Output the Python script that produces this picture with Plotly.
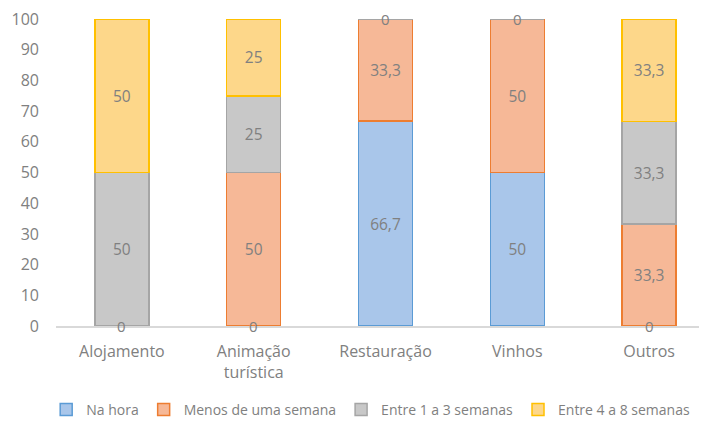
import plotly.graph_objects as go

categories = ["Alojamento", "Animação<br>turística", "Restauração", "Vinhos", "Outros"]
na_hora = [0, 0, 66.7, 50, 0]
menos_semana = [None, 50, 33.3, 50, 33.3]
entre_1_3 = [50, 25, 0, 0, 33.3]
entre_4_8 = [50, 25, None, None, 33.3]

series = [
    ("Na hora", na_hora, "#A9C6EA", "#5B9BD5"),
    ("Menos de uma semana", menos_semana, "#F6B897", "#ED7D31"),
    ("Entre 1 a 3 semanas", entre_1_3, "#C8C8C8", "#A5A5A5"),
    ("Entre 4 a 8 semanas", entre_4_8, "#FDD78A", "#FFC000"),
]

FONT = "Open Sans, sans-serif"
TXT = "#808080"

def fmt(v):
    if v is None:
        return ""
    return ("%g" % v).replace(".", ",")

fig = go.Figure()
base = [0.0] * len(categories)
annotations = []
for name, vals, fill, line in series:
    fig.add_trace(go.Bar(
        name=name, x=categories, y=vals,
        marker=dict(color=fill, line=dict(color=line, width=1.5)),
        text=[fmt(v) for v in vals],
        textposition="inside", insidetextanchor="middle",
        constraintext="none",
        textfont=dict(color=TXT, size=15.5, family=FONT),
    ))
    for i, v in enumerate(vals):
        if v is None:
            continue
        if v == 0:
            annotations.append(dict(x=categories[i], y=base[i], xref="x", yref="y",
                                    text="0", showarrow=False, borderpad=0,
                                    font=dict(color=TXT, size=15, family=FONT)))
        base[i] += v

fig.update_layout(
    barmode="stack",
    bargap=0.59,
    width=707, height=423,
    margin=dict(l=48, r=0, t=11, b=105, autoexpand=False),
    plot_bgcolor="white", paper_bgcolor="white",
    font=dict(family=FONT, color=TXT, size=15),
    showlegend=True,
    annotations=annotations,
    legend=dict(orientation="h", xref="container", yref="container",
                x=0.513, xanchor="center", y=0.05, yanchor="middle",
                font=dict(size=14, color=TXT, family=FONT), traceorder="normal",
                itemwidth=30, tracegroupgap=0),
    yaxis=dict(range=[0, 100], dtick=10, showgrid=False, zeroline=False, automargin=False,
               tickfont=dict(size=16, color=TXT), ticks="", ticklabelstandoff=16,
               ticklabeloverflow="allow"),
    xaxis=dict(showline=True, linecolor="#D9D9D9", linewidth=1.5, ticks="", automargin=False,
               tickfont=dict(size=16, color=TXT), ticklabelstandoff=10,
               ticklabeloverflow="allow"),
)

fig.write_html("out.html")
